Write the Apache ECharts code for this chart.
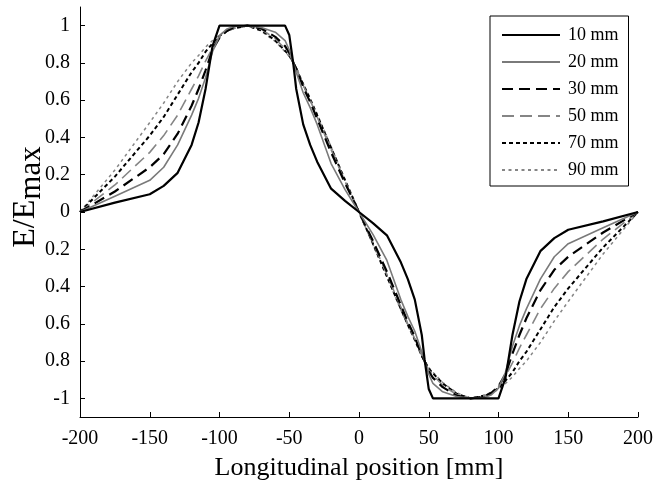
<!DOCTYPE html>
<html>
<head>
<meta charset="utf-8">
<script src="https://cdn.jsdelivr.net/npm/echarts@6/dist/echarts.min.js"></script>
<style>
  html, body { margin: 0; padding: 0; background: #fff; }
  #chart { width: 667px; height: 489px; }
</style>
</head>
<body>
<div id="chart"></div>
<script>
// Longitudinal positions (mm) at which the normalised field is sampled
const positions = [-200,-175,-150,-140,-130,-120,-115,-110,-105,-100,-95,-90,-80,-70,-60,-53,-50,-47,-45,-40,-35,-30,-20,-10,0,
  10,20,30,35,40,45,47,50,53,60,70,80,90,95,100,105,110,115,120,130,140,150,175,200];

// E/Emax profiles for each electrode width
const e10mm = [0,0.05,0.095,0.14,0.21,0.36,0.48,0.66,0.89,1,1,1,1,1,1,1,0.95,0.79,0.66,0.47,0.36,0.27,0.125,0.06,0,
  -0.06,-0.125,-0.27,-0.36,-0.47,-0.66,-0.79,-0.95,-1,-1,-1,-1,-1,-1,-1,-0.89,-0.66,-0.48,-0.36,-0.21,-0.14,-0.095,-0.05,0];
const e20mm = [0,0.085,0.17,0.24,0.36,0.52,0.61,0.72,0.86,0.945,0.98,0.995,1,0.99,0.965,0.92,0.87,0.80,0.75,0.64,0.56,0.47,0.26,0.12,0,
  -0.12,-0.26,-0.47,-0.56,-0.64,-0.75,-0.80,-0.87,-0.92,-0.965,-0.99,-1,-0.995,-0.98,-0.945,-0.86,-0.72,-0.61,-0.52,-0.36,-0.24,-0.17,-0.085,0];
const e30mm = [0,0.11,0.24,0.31,0.42,0.57,0.66,0.76,0.87,0.935,0.97,0.99,1,0.985,0.94,0.89,0.855,0.80,0.77,0.67,0.59,0.50,0.32,0.155,0,
  -0.155,-0.32,-0.50,-0.59,-0.67,-0.77,-0.80,-0.855,-0.89,-0.94,-0.985,-1,-0.99,-0.97,-0.935,-0.87,-0.76,-0.66,-0.57,-0.42,-0.31,-0.24,-0.11,0];
const e50mm = [0,0.145,0.32,0.41,0.52,0.66,0.73,0.81,0.88,0.935,0.97,0.985,1,0.98,0.93,0.875,0.85,0.80,0.77,0.68,0.60,0.51,0.335,0.165,0,
  -0.165,-0.335,-0.51,-0.60,-0.68,-0.77,-0.80,-0.85,-0.875,-0.93,-0.98,-1,-0.985,-0.97,-0.935,-0.88,-0.81,-0.73,-0.66,-0.52,-0.41,-0.32,-0.145,0];
const e70mm = [0,0.19,0.41,0.51,0.63,0.75,0.80,0.86,0.905,0.945,0.97,0.985,1,0.975,0.92,0.865,0.84,0.80,0.77,0.685,0.605,0.52,0.345,0.17,0,
  -0.17,-0.345,-0.52,-0.605,-0.685,-0.77,-0.80,-0.84,-0.865,-0.92,-0.975,-1,-0.985,-0.97,-0.945,-0.905,-0.86,-0.80,-0.75,-0.63,-0.51,-0.41,-0.19,0];
const e90mm = [0,0.225,0.48,0.585,0.70,0.80,0.84,0.885,0.92,0.95,0.975,0.99,1,0.97,0.915,0.86,0.835,0.80,0.775,0.69,0.61,0.525,0.35,0.175,0,
  -0.175,-0.35,-0.525,-0.61,-0.69,-0.775,-0.80,-0.835,-0.86,-0.915,-0.97,-1,-0.99,-0.975,-0.95,-0.92,-0.885,-0.84,-0.80,-0.70,-0.585,-0.48,-0.225,0];

const seriesNames = ['10 mm', '20 mm', '30 mm', '50 mm', '70 mm', '90 mm'];

// Y ticks and the text printed next to them
const yTickValues = [-1,-0.8,-0.6,-0.4,-0.2,0,0.2,0.4,0.6,0.8,1];
const yTickLabels = ['-1','0.8','0.6','0.4','0.2','0','0.2','0.4','0.6','0.8','1'];

const serif = 'Liberation Serif';
const profiles = [e10mm, e20mm, e30mm, e50mm, e70mm, e90mm];
const lineStyles = [
  { color: '#000000', width: 2.2, type: 'solid' },
  { color: '#7a7a7a', width: 1.6, type: 'solid' },
  { color: '#000000', width: 2.2, type: [11, 6] },
  { color: '#858585', width: 1.6, type: [12, 6] },
  { color: '#000000', width: 2.0, type: [4, 3] },
  { color: '#858585', width: 1.5, type: [3, 3.5] }
];

const series = profiles.map((vals, i) => ({
  name: seriesNames[i],
  type: 'line',
  data: positions.map((x, j) => [x, vals[j]]),
  symbol: 'none',
  showSymbol: false,
  smooth: false,
  lineStyle: lineStyles[i],
  itemStyle: { color: lineStyles[i].color },
  z: 10 - i
}));

const chart = echarts.init(document.getElementById('chart'), null, { renderer: 'canvas' });
chart.setOption({
  animation: false,
  backgroundColor: '#ffffff',
  grid: { left: 80, right: 29, top: 7, bottom: 72, containLabel: false, outerBoundsMode: 'none' },
  legend: {
    orient: 'vertical',
    left: 490,
    top: 16,
    width: 142,
    padding: [10, 10, 7, 11],
    itemWidth: 58,
    itemHeight: 14,
    itemGap: 9,
    borderColor: '#000',
    borderWidth: 1,
    backgroundColor: '#fff',
    itemStyle: { opacity: 0 },
    textStyle: { fontFamily: serif, fontSize: 18, color: '#000', padding: [0, 0, 0, 3] },
    data: seriesNames
  },
  xAxis: {
    type: 'value',
    min: -200,
    max: 200,
    interval: 50,
    name: 'Longitudinal position [mm]',
    nameLocation: 'middle',
    nameGap: 38,
    nameTextStyle: { fontFamily: serif, fontSize: 26, color: '#000' },
    axisLine: { show: true, onZero: false, lineStyle: { color: '#000', width: 1 } },
    axisTick: { show: true, inside: true, length: 5, lineStyle: { color: '#000' } },
    axisLabel: { fontFamily: serif, fontSize: 20, color: '#000', margin: 12 },
    splitLine: { show: false }
  },
  yAxis: {
    type: 'value',
    min: -1.1,
    max: 1.1,
    name: '{a|E/E}{b|max}',
    nameLocation: 'middle',
    nameRotate: 90,
    nameGap: 33,
    nameMoveOverlap: false,
    nameTextStyle: {
      padding: [0, 0, 0, 30],
      rich: {
        a: { fontFamily: serif, fontSize: 32, color: '#000', lineHeight: 42, verticalAlign: 'middle' },
        b: { fontFamily: serif, fontSize: 31, color: '#000', lineHeight: 42, verticalAlign: 'bottom' }
      }
    },
    axisLine: { show: true, onZero: false, lineStyle: { color: '#000', width: 1 } },
    axisTick: { show: true, inside: true, length: 5, customValues: yTickValues, lineStyle: { color: '#000' } },
    axisLabel: {
      customValues: yTickValues,
      fontFamily: serif, fontSize: 20, color: '#000', margin: 10,
      formatter: (v) => {
        const k = yTickValues.findIndex(t => Math.abs(t - v) < 1e-9);
        return k >= 0 ? yTickLabels[k] : '';
      }
    },
    splitLine: { show: false }
  },
  series: series
});
</script>
</body>
</html>
